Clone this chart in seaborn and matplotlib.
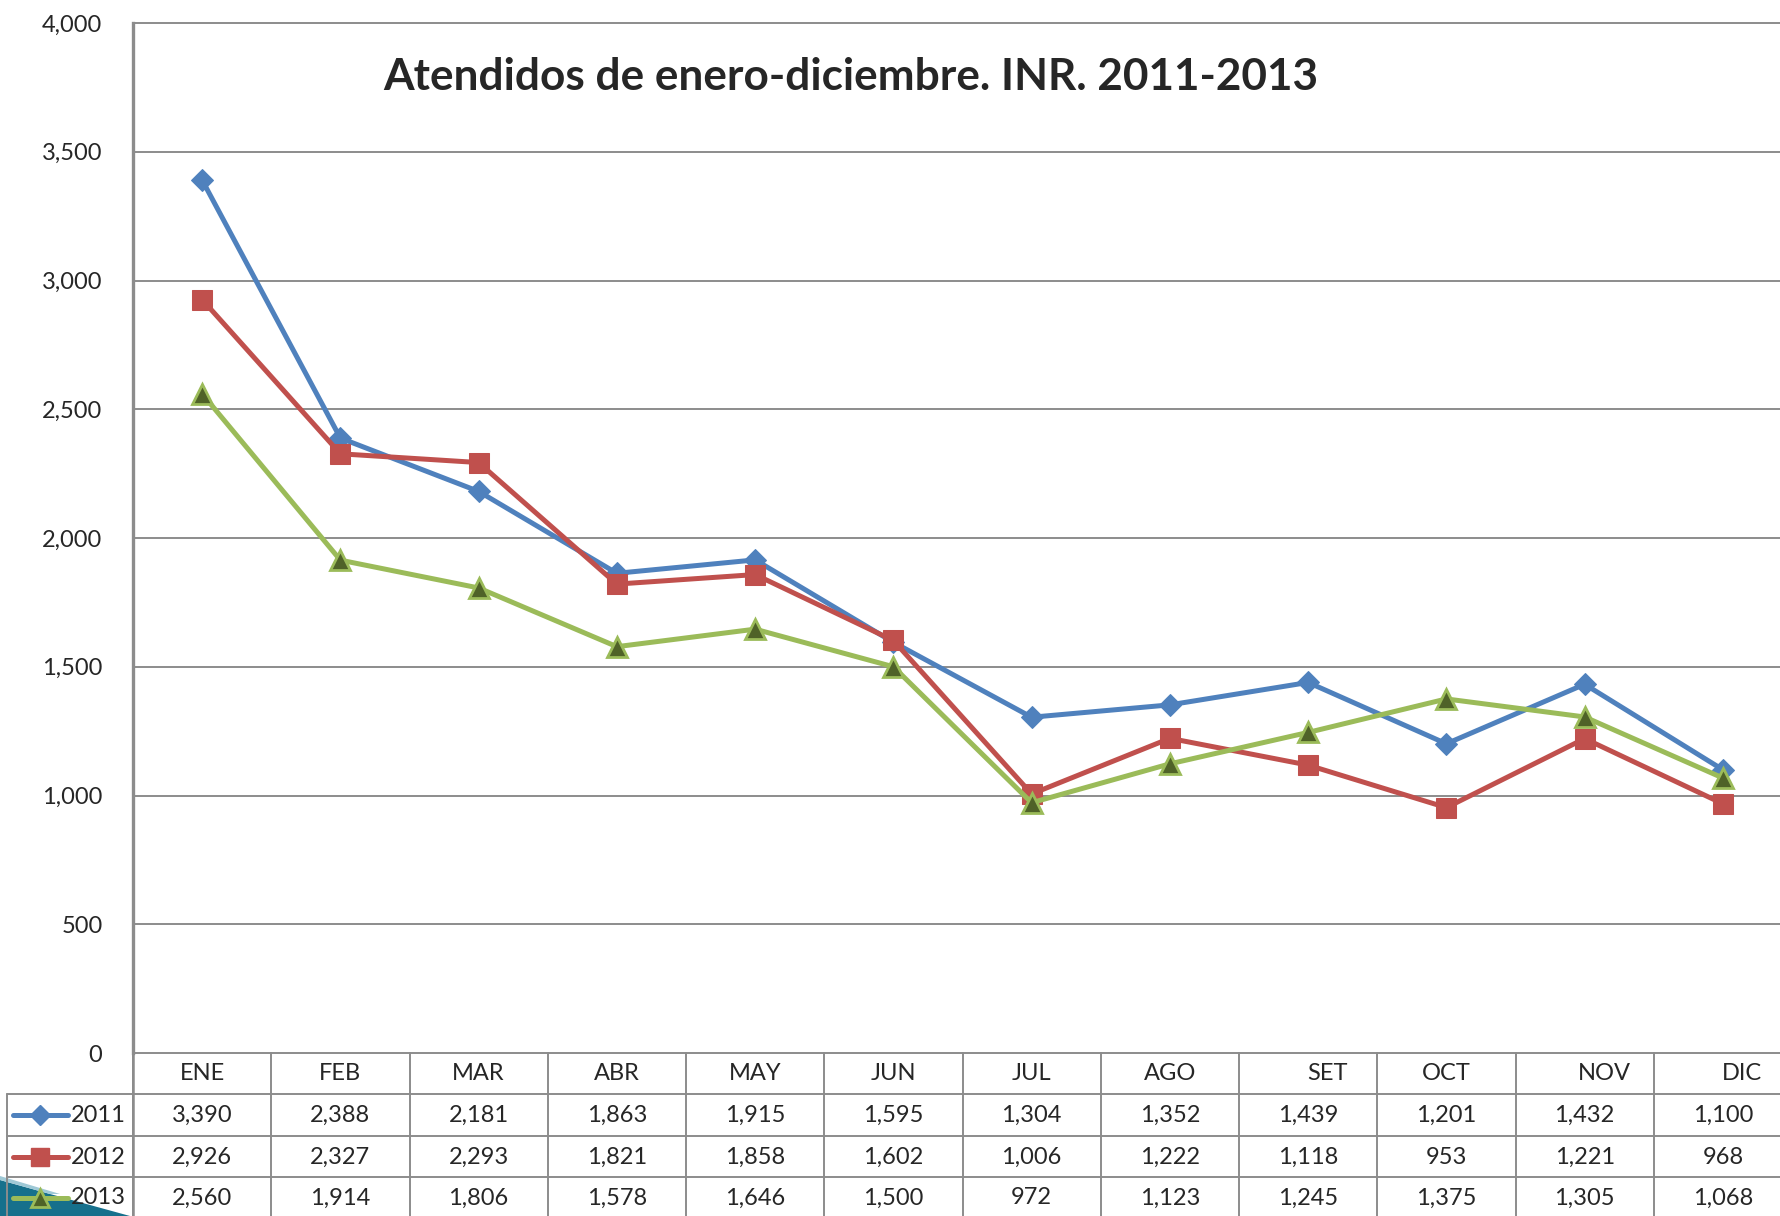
import numpy as np
import pandas as pd
import matplotlib
matplotlib.use('Agg')
import matplotlib.pyplot as plt
import matplotlib.transforms as mtransforms
from matplotlib.lines import Line2D
from matplotlib.patches import Polygon
import seaborn as sns

# data
months = ['ENE', 'FEB', 'MAR', 'ABR', 'MAY', 'JUN', 'JUL', 'AGO', 'SET', 'OCT', 'NOV', 'DIC']
years = ['2011', '2012', '2013']
vals_2011 = [3390, 2388, 2181, 1863, 1915, 1595, 1304, 1352, 1439, 1201, 1432, 1100]
vals_2012 = [2926, 2327, 2293, 1821, 1858, 1602, 1006, 1222, 1118, 953, 1221, 968]
vals_2013 = [2560, 1914, 1806, 1578, 1646, 1500, 972, 1123, 1245, 1375, 1305, 1068]
yticks = [0, 500, 1000, 1500, 2000, 2500, 3000, 3500, 4000]
title = 'Atendidos de enero-diciembre. INR. 2011-2013'

df = pd.DataFrame({
    'idx': list(range(len(months))) * 3,
    'mes': months * 3,
    'anio': np.repeat(years, len(months)),
    'valor': vals_2011 + vals_2012 + vals_2013,
})

sns.set_style('white')
plt.rcParams['font.family'] = ['Lato', 'DejaVu Sans']

# series styles (Excel 2007 defaults)
styles = {
    '2011': dict(color='#4F81BD', marker='D', markerfacecolor='#4F81BD', markeredgecolor='#4F81BD', markersize=11),
    '2012': dict(color='#C0504D', marker='s', markerfacecolor='#C0504D', markeredgecolor='#C0504D', markersize=14),
    '2013': dict(color='#9BBB59', marker='^', markerfacecolor='#4F6228', markeredgecolor='#9BBB59', markersize=14,
                 markeredgewidth=2),
}
grid_col = '#8C8C8C'
fs = 17

W, H = 1780, 1216
fig = plt.figure(figsize=(W / 100, H / 100), dpi=100)

# decorative slide background wedge at bottom-left
fig.patches.append(Polygon([(0, 0), (0, 36 / H), (50 / W, 22 / H), (130 / W, 0)], closed=True,
                           transform=fig.transFigure, facecolor='#16708C', edgecolor='none', zorder=-1))
fig.patches.append(Polygon([(0, 36 / H), (0, 40 / H), (60 / W, 22 / H), (50 / W, 22 / H)], closed=True,
                           transform=fig.transFigure, facecolor='#9FC9D6', edgecolor='none', zorder=-1))

left_px, right_px, top_px, bot_px = 133, 1792, 23, 1053
ax = fig.add_axes([left_px / W, 1 - bot_px / H, (right_px - left_px) / W, (bot_px - top_px) / H])
ax.patch.set_alpha(0)

for yr in years:
    sub = df[df['anio'] == yr]
    sns.lineplot(data=sub, x='idx', y='valor', ax=ax, linewidth=3.6, legend=False,
                 zorder=3, clip_on=False, **styles[yr])

ax.set_xlim(-0.5, len(months) - 0.5)
ax.set_ylim(0, 4000)
ax.set_yticks(yticks)
ax.set_yticklabels([f'{t:,}' for t in yticks], fontsize=fs)
ax.tick_params(axis='y', length=0, pad=22)
ax.set_xticks([])
ax.set_xlabel('')
ax.set_ylabel('')
for s in ['top', 'right', 'bottom']:
    ax.spines[s].set_visible(False)
ax.spines['left'].set_color(grid_col)
ax.spines['left'].set_linewidth(2.4)
ax.grid(axis='y', color=grid_col, linewidth=1.4)
for gl in ax.get_ygridlines():
    gl.set_clip_on(False)
ax.set_axisbelow(True)

ax.text((851 - left_px) / (right_px - left_px), 0.948, title, transform=ax.transAxes,
        fontsize=31.8, fontweight='bold', ha='center', va='center')

# data table below the axis
trans = mtransforms.blended_transform_factory(ax.transData, ax.transAxes)
axh = bot_px - top_px
col_w = (right_px - left_px) / len(months)


def yf(px):
    return (bot_px - px) / axh


def xd(px):
    return -0.5 + (px - left_px) / col_w


line_kw = dict(color=grid_col, linewidth=1.4, transform=trans, clip_on=False)
row_edges = [1094, 1136, 1177]
x_right = len(months) - 0.5
for ry in row_edges:
    ax.add_line(Line2D([xd(7), x_right], [yf(ry), yf(ry)], **line_kw))
ax.add_line(Line2D([xd(7), xd(7)], [yf(1094), yf(1230)], **line_kw))
for k in range(len(months) + 1):
    ax.add_line(Line2D([k - 0.5, k - 0.5], [yf(bot_px), yf(1230)], **line_kw))
ax.add_line(Line2D([-0.5, -0.5], [yf(bot_px), yf(1230)], color=grid_col, linewidth=1.8,
                   transform=trans, clip_on=False))

label_shift = {'SET': 0.14, 'NOV': 0.14, 'DIC': 0.14}
for i, m in enumerate(months):
    ax.text(i + label_shift.get(m, 0), yf(1074), m, transform=trans, ha='center', va='center', fontsize=fs)

row_centers = [1115, 1157, 1198]
series = [vals_2011, vals_2012, vals_2013]
for yr, vals, rc in zip(years, series, row_centers):
    st = styles[yr]
    ax.add_line(Line2D([xd(13), xd(68)], [yf(rc), yf(rc)], color=st['color'], linewidth=3.6,
                       transform=trans, clip_on=False, zorder=4))
    ax.add_line(Line2D([xd(40)], [yf(rc)], marker=st['marker'], markersize=st['markersize'] * 0.95,
                       markerfacecolor=st['markerfacecolor'], markeredgecolor=st['markeredgecolor'],
                       markeredgewidth=st.get('markeredgewidth', 1), linestyle='none',
                       transform=trans, clip_on=False, zorder=5))
    ax.text(xd(71), yf(rc), yr, transform=trans, ha='left', va='center', fontsize=fs)
    for i, v in enumerate(vals):
        ax.text(i, yf(rc), f'{v:,}', transform=trans, ha='center', va='center', fontsize=fs)

fig.savefig('out.png', dpi=100)
